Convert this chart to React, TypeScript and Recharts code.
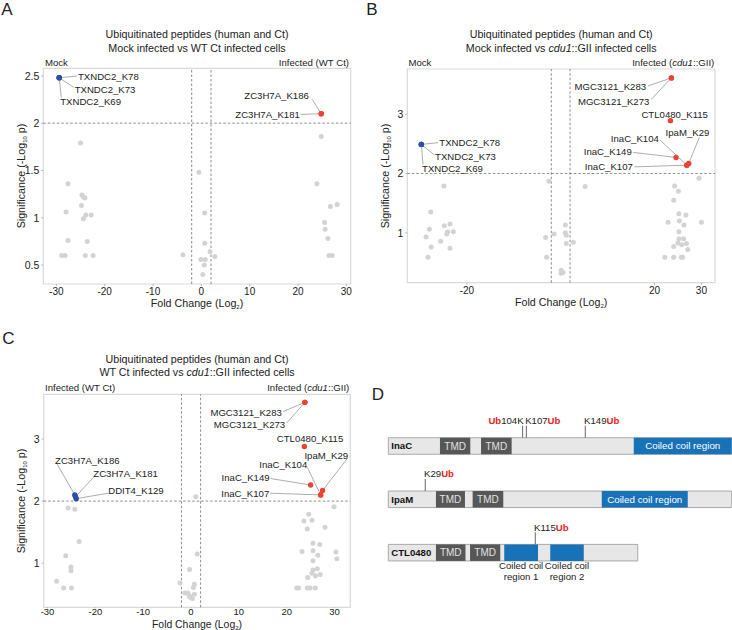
import React from 'react';
import { ScatterChart, Scatter, XAxis, YAxis, ReferenceLine, ReferenceArea } from 'recharts';

const FONT = '"Liberation Sans", Arial, Helvetica, sans-serif';
const GRAY = '#d3d3d3';
const RED = '#f0402f';
const BLUE = '#2d4fa6';
const INK = '#222';

// ---- panel A: mock vs WT Ct (fold change, -log10 p)
const grayA: [number, number][] = [
  [-25, 1.79], [-27.6, 1.36], [-24.7, 1.24], [-24.4, 1.22], [-24.1, 1.21], [-24.8, 1.13], [-28.0, 1.06],
  [-23.9, 1.03], [-22.8, 1.03], [-24.4, 0.99], [-27.6, 0.76], [-23.6, 0.75], [-28.9, 0.6], [-28.2, 0.6],
  [-24.0, 0.6], [-22.4, 0.6],
  [-0.5, 1.48], [0.7, 1.05], [0.7, 0.73], [-3.8, 0.61], [1.8, 0.64], [2.8, 0.59], [-0.1, 0.56], [0.8, 0.56],
  [0.6, 0.5], [0.3, 0.4],
  [24.8, 1.86], [23.9, 1.36], [28.1, 1.14], [26.7, 1.12], [25.5, 0.95], [25.6, 0.88], [26.2, 0.78],
  [26.4, 0.6], [27.1, 0.6],
];
const hitsA = [
  { name: 'TXNDC2_K78', fc: -29.4, sig: 2.48, up: false },
  { name: 'TXNDC2_K73', fc: -29.4, sig: 2.48, up: false },
  { name: 'TXNDC2_K69', fc: -29.4, sig: 2.48, up: false },
  { name: 'ZC3H7A_K186', fc: 24.8, sig: 2.1, up: true },
  { name: 'ZC3H7A_K181', fc: 24.8, sig: 2.1, up: true },
];

// ---- panel B: mock vs cdu1::GII
const grayB: [number, number][] = [
  [-24.9, 1.79], [-27.7, 1.35], [-24.8, 1.12], [-23.6, 1.15], [-28.0, 1.06], [-22.9, 1.02], [-24.1, 1.02],
  [-24.3, 0.98], [-28.7, 0.93], [-25.6, 0.86], [-27.6, 0.76], [-23.6, 0.74], [-28.3, 0.59],
  [-2.5, 1.87], [-3.2, 0.92], [-1.4, 0.98], [1.0, 1.13], [1.0, 1.0], [1.2, 0.96], [1.2, 0.82], [2.7, 0.84],
  [-3.0, 0.59], [0.1, 0.37], [0.5, 0.33], [0.1, 0.32], [5.2, 1.78],
  [29.5, 1.92], [24.3, 1.79], [25.1, 1.7], [24.1, 1.55], [25.2, 1.32], [26.7, 1.3], [22.9, 1.18], [25.3, 1.2],
  [26.3, 1.13], [30.0, 1.18], [25.2, 1.02], [25.2, 0.9], [26.2, 0.9], [25.0, 0.83], [26.8, 0.82], [24.1, 0.77],
  [25.8, 0.8], [27.1, 0.72], [22.2, 0.59], [24.1, 0.59], [25.7, 0.59], [26.0, 0.59],
];
const hitsB = [
  { name: 'TXNDC2_K78', fc: -29.7, sig: 2.49, up: false },
  { name: 'TXNDC2_K73', fc: -29.7, sig: 2.49, up: false },
  { name: 'TXNDC2_K69', fc: -29.7, sig: 2.49, up: false },
  { name: 'MGC3121_K283', fc: 23.6, sig: 3.61, up: true },
  { name: 'MGC3121_K273', fc: 23.6, sig: 3.61, up: true },
  { name: 'CTL0480_K115', fc: 23.4, sig: 2.89, up: true },
  { name: 'InaC_K149', fc: 24.6, sig: 2.27, up: true },
  { name: 'InaC_K107', fc: 26.9, sig: 2.14, up: true },
  { name: 'InaC_K104', fc: 26.9, sig: 2.14, up: true },
  { name: 'IpaM_K29', fc: 27.3, sig: 2.17, up: true },
];

// ---- panel C: WT Ct vs cdu1::GII
const grayC: [number, number][] = [
  [-25.7, 1.89], [-24.3, 1.87], [-23.4, 1.35], [-26.2, 1.12], [-25.1, 0.94], [-25.1, 0.88], [-28.1, 0.71],
  [-26.6, 0.6], [-25.0, 0.6],
  [1.0, 2.07], [1.3, 1.15], [-0.3, 0.9], [-2.3, 0.68], [0.7, 0.66], [0.5, 0.61], [-1.3, 0.52], [-0.7, 0.52],
  [-0.4, 0.48], [0.3, 0.43], [0.7, 0.5], [-0.2, 0.45],
  [29.9, 1.91], [24.6, 1.79], [23.6, 1.68], [25.3, 1.69], [28.0, 1.58], [24.3, 1.55], [25.5, 1.32], [26.9, 1.3],
  [23.2, 1.19], [25.5, 1.2], [26.5, 1.13], [30.3, 1.18], [30.5, 1.07], [25.5, 1.04], [25.5, 0.89], [26.4, 0.91],
  [25.3, 0.84], [27.0, 0.82], [24.4, 0.77], [26.0, 0.8], [22.1, 0.6], [22.5, 0.6], [24.3, 0.6], [24.9, 0.6],
  [26.0, 0.6],
];
const hitsC = [
  { name: 'ZC3H7A_K186', fc: -24.3, sig: 2.1, up: false },
  { name: 'ZC3H7A_K181', fc: -24.15, sig: 2.07, up: false },
  { name: 'DDIT4_K129', fc: -24.0, sig: 2.04, up: false },
  { name: 'MGC3121_K283', fc: 23.8, sig: 3.59, up: true },
  { name: 'MGC3121_K273', fc: 23.8, sig: 3.59, up: true },
  { name: 'CTL0480_K115', fc: 23.7, sig: 2.88, up: true },
  { name: 'InaC_K149', fc: 25.0, sig: 2.26, up: true },
  { name: 'InaC_K107', fc: 27.1, sig: 2.1, up: true },
  { name: 'InaC_K104', fc: 27.1, sig: 2.1, up: true },
  { name: 'IpaM_K29', fc: 27.5, sig: 2.17, up: true },
];

// label placement, pixel offsets from the point (text, leader end)
type Anno = { tx: number; ty: number; anchor: 'start' | 'end'; lx?: number; ly?: number };
const layoutA: Record<string, Anno> = {
  TXNDC2_K78: { tx: 18.7, ty: -1.7, anchor: 'start', lx: 17.7, ly: -1.7 },
  TXNDC2_K73: { tx: 15.4, ty: 11.6, anchor: 'start', lx: 14.4, ly: 9.6 },
  TXNDC2_K69: { tx: 1, ty: 24, anchor: 'start', lx: 2, ly: 19.6 },
  ZC3H7A_K186: { tx: -12.4, ty: -18.6, anchor: 'end', lx: -9, ly: -14.3 },
  ZC3H7A_K181: { tx: -21.4, ty: 0.7, anchor: 'end', lx: -20.5, ly: 0.7 },
};
const layoutB: Record<string, Anno> = {
  TXNDC2_K78: { tx: 18, ty: -1.7, anchor: 'start', lx: 16.7, ly: -1.7 },
  TXNDC2_K73: { tx: 13.7, ty: 12, anchor: 'start', lx: 13, ly: 10.6 },
  TXNDC2_K69: { tx: 0.7, ty: 24.3, anchor: 'start', lx: 1.7, ly: 20.3 },
  MGC3121_K283: { tx: -25.3, ty: 9, anchor: 'end', lx: -23.3, ly: 8 },
  MGC3121_K273: { tx: -22, ty: 23.4, anchor: 'end', lx: -20.3, ly: 21.7 },
  CTL0480_K115: { tx: -29, ty: -6.4, anchor: 'start' },
  InaC_K149: { tx: -44.3, ty: -5.6, anchor: 'end', lx: -42.7, ly: -5 },
  InaC_K107: { tx: -54, ty: 1.7, anchor: 'end', lx: -52.4, ly: 1.7 },
  InaC_K104: { tx: -28, ty: -26.6, anchor: 'end', lx: -27, ly: -25.3 },
  IpaM_K29: { tx: 20.6, ty: -30.6, anchor: 'end', lx: 10.6, ly: -26 },
};
const layoutC: Record<string, Anno> = {
  ZC3H7A_K186: { tx: -19.7, ty: -34.7, anchor: 'start', lx: -18, ly: -31.4 },
  ZC3H7A_K181: { tx: 17.8, ty: -23.3, anchor: 'start', lx: 18.5, ly: -20 },
  DDIT4_K129: { tx: 32, ty: -8, anchor: 'start', lx: 32, ly: -5.4 },
  MGC3121_K283: { tx: -23, ty: 9.7, anchor: 'end', lx: -21.7, ly: 9.2 },
  MGC3121_K273: { tx: -19.7, ty: 22, anchor: 'end', lx: -18.2, ly: 20.7 },
  CTL0480_K115: { tx: -27.6, ty: -8.4, anchor: 'start' },
  InaC_K149: { tx: -41, ty: -7.4, anchor: 'end', lx: -40, ly: -6.4 },
  InaC_K107: { tx: -51.4, ty: -1.7, anchor: 'end', lx: -50.4, ly: -1.7 },
  InaC_K104: { tx: -13.4, ty: -30, anchor: 'end', lx: -13.4, ly: -27.7 },
  IpaM_K29: { tx: 25.6, ty: -34.7, anchor: 'end', lx: 25, ly: -32.4 },
};

// ---- panel D: protein schematics (schematic residue scale)
const proteins = ['InaC', 'IpaM', 'CTL0480'];
const proteinRow = [3, 2, 1];
const proteinLength = [250, 250, 181.6];
const tmds: [string, number, number][] = [
  ['InaC', 37.6, 59.7], ['InaC', 67.5, 89.8],
  ['IpaM', 34.7, 55.8], ['IpaM', 61.4, 83.7],
  ['CTL0480', 34.7, 56.2], ['CTL0480', 59.5, 81.5],
];
const coiledCoils: [string, number, number, string][] = [
  ['InaC', 178.7, 250, 'Coiled coil region'],
  ['IpaM', 155.4, 218, 'Coiled coil region'],
  ['CTL0480', 84.4, 109, 'Coiled coil|region 1'],
  ['CTL0480', 117.9, 142.3, 'Coiled coil|region 2'],
];
const ubSites = [
  { protein: 'InaC', lys: 'K104', at: 97.8 },
  { protein: 'InaC', lys: 'K107', at: 100.5 },
  { protein: 'InaC', lys: 'K149', at: 143.4 },
  { protein: 'IpaM', lys: 'K29', at: 26.9 },
  { protein: 'CTL0480', lys: 'K115', at: 107 },
];
const reversedSites = ['K104'];

type Box = { l: number; t: number; r: number; b: number };
const Y_W = 30;
const X_H = 16;

function makeHitShape(layout: Record<string, Anno>) {
  return (p: any) => {
    const { cx, cy, payload } = p;
    const a = layout[payload.name];
    return (
      <g>
        {a && a.lx !== undefined && (
          <line x1={cx} y1={cy} x2={cx + a.lx} y2={cy + (a.ly ?? 0)} stroke="#8a8a8a" strokeWidth={0.7} />
        )}
        <circle cx={cx} cy={cy} r={2.7} fill={payload.up ? RED : BLUE} />
        {a && (
          <text x={cx + a.tx} y={cy + a.ty} textAnchor={a.anchor} dominantBaseline="central"
            fontSize={9.6} fontFamily={FONT} fill={INK}>{payload.name}</text>
        )}
      </g>
    );
  };
}

const grayShape = (p: any) => <circle cx={p.cx} cy={p.cy} r={2.5} fill={GRAY} />;

function Volcano({ left, top, width, height, box, xDomain, yDomain, xTicks, yTicks, gray, hits, layout,
  xTickSize = 2, xTickMargin = 2, xTickFont = 10 }: any) {
  const margin = {
    left: box.l - left - Y_W,
    right: left + width - box.r,
    top: box.t - top,
    bottom: top + height - box.b - X_H,
  };
  return (
    <div style={{ position: 'absolute', left, top }}>
      <ScatterChart width={width} height={height} margin={margin}>
        <XAxis type="number" dataKey="fc" domain={xDomain} allowDataOverflow ticks={xTicks} interval={0}
          height={X_H} axisLine={false} tickSize={xTickSize} tickMargin={xTickMargin} tickLine={{ stroke: '#b5b5b5' }}
          tick={{ fontSize: xTickFont, fill: INK, fontFamily: FONT }} />
        <YAxis type="number" dataKey="sig" domain={yDomain} allowDataOverflow ticks={yTicks} interval={0}
          width={Y_W} axisLine={false} tickSize={2} tickMargin={2} tickLine={{ stroke: '#b5b5b5' }}
          tick={{ fontSize: 10.5, fill: INK, fontFamily: FONT }} />
        <ReferenceArea x1={xDomain[0]} x2={xDomain[1]} y1={yDomain[0]} y2={yDomain[1]}
          fill="none" fillOpacity={0} stroke="#d9d9d9" strokeWidth={1.2} />
        <ReferenceLine x={-2} stroke="#707070" strokeWidth={0.8} strokeDasharray="2.5 2" />
        <ReferenceLine x={2} stroke="#707070" strokeWidth={0.8} strokeDasharray="2.5 2" />
        <ReferenceLine y={2} stroke="#707070" strokeWidth={0.8} strokeDasharray="2.5 2" />
        <Scatter data={gray.map(([fc, sig]: [number, number]) => ({ fc, sig }))} shape={grayShape}
          isAnimationActive={false} />
        <Scatter data={hits} shape={makeHitShape(layout)} isAnimationActive={false} />
      </ScatterChart>
    </div>
  );
}

function siteShape(p: any) {
  const { cx, cy, payload } = p;
  const top = cy - 20.3;
  const rev = reversedSites.includes(payload.lys);
  const num = payload.lys.slice(1);
  return (
    <g>
      <line x1={cx} y1={cy - 8.3} x2={cx} y2={top} stroke="#555" strokeWidth={0.9} />
      <text x={rev ? cx + 1 : cx - 1.2} y={top - 1.8} textAnchor={rev ? 'end' : 'start'} fontSize={9.6}
        fontFamily={FONT} fill={INK}>
        {rev ? (
          <>
            <tspan fill="#e8231b" fontWeight="bold">Ub</tspan>
            <tspan>{num}K</tspan>
          </>
        ) : (
          <>
            <tspan>{payload.lys}</tspan>
            <tspan fill="#e8231b" fontWeight="bold">Ub</tspan>
          </>
        )}
      </text>
    </g>
  );
}

function Schematic() {
  const half = 0.155;
  const rowOf = (name: string) => proteinRow[proteins.indexOf(name)];
  const sites = ubSites.map((s) => ({ ...s, x: s.at, y: rowOf(s.protein) }));
  return (
    <div style={{ position: 'absolute', left: 366, top: 380 }}>
      <ScatterChart width={366} height={240} margin={{ left: 22.3, right: 0.3, top: 12.65, bottom: 14 }}>
        <XAxis type="number" dataKey="x" domain={[0, 250]} allowDataOverflow hide />
        <YAxis type="number" dataKey="y" domain={[0, 4]} allowDataOverflow hide />
        {proteins.map((name, i) => (
          <ReferenceArea key={name} x1={0} x2={proteinLength[i]} y1={proteinRow[i] - half} y2={proteinRow[i] + half}
            fill="#e7e7e7" fillOpacity={1} stroke="#a9a9a9" strokeWidth={1} ifOverflow="visible"
            label={{ value: name, position: 'insideLeft', offset: 3, fontSize: 9.6, fontWeight: 'bold', fill: '#111', fontFamily: FONT }} />
        ))}
        {tmds.map(([name, a, b], i) => (
          <ReferenceArea key={'t' + i} x1={a} x2={b} y1={rowOf(name) - half} y2={rowOf(name) + half}
            fill="#575757" fillOpacity={1} stroke="none"
            label={{ value: 'TMD', position: 'center', fontSize: 10, fill: '#e2e2e2', fontFamily: FONT }} />
        ))}
        {coiledCoils.map(([name, a, b, text], i) => {
          const parts = text.split('|');
          const label =
            parts.length === 1
              ? { value: text, position: 'center' as const, fontSize: 9.8, fill: '#fff', fontFamily: FONT }
              : {
                  content: (lp: any) => {
                    const vb = lp.viewBox;
                    const x = vb.x + vb.width / 2;
                    const y = vb.y + vb.height;
                    return (
                      <text textAnchor="middle" fontSize={9.6} fontFamily={FONT} fill={INK}>
                        <tspan x={x} y={y + 8.3}>{parts[0]}</tspan>
                        <tspan x={x} y={y + 19.3}>{parts[1]}</tspan>
                      </text>
                    );
                  },
                };
          return (
            <ReferenceArea key={'c' + i} x1={a} x2={b} y1={rowOf(name) - half} y2={rowOf(name) + half}
              fill="#1872b8" fillOpacity={1} stroke="none" ifOverflow="visible" label={label as any} />
          );
        })}
        <Scatter data={sites} shape={siteShape} isAnimationActive={false} />
      </ScatterChart>
    </div>
  );
}

function T({ x, y, a = 'middle', size = 9.6, rotate = false, bold = false, children }: any) {
  const tx = a === 'middle' ? '-50%' : a === 'end' ? '-100%' : '0';
  return (
    <div
      style={{
        position: 'absolute', left: x, top: y, whiteSpace: 'nowrap', lineHeight: 1, fontSize: size,
        fontFamily: FONT, color: INK, fontWeight: bold ? 'bold' : 'normal',
        transform: `translate(${tx},-50%)${rotate ? ' rotate(-90deg)' : ''}`,
      }}
    >
      {children}
    </div>
  );
}

const sub = (s: string) => <sub style={{ fontSize: 6, verticalAlign: '-2px', lineHeight: 0 }}>{s}</sub>;
const yTitle = <>Significance (-Log{sub('10')} p)</>;
const xTitle = <>Fold Change (Log{sub('2')})</>;

export default function App() {
  const boxA: Box = { l: 43.3, t: 68.3, r: 350.7, b: 284 };
  const boxB: Box = { l: 407.3, t: 69, r: 715, b: 282.7 };
  const boxC: Box = { l: 43.7, t: 394.3, r: 350.3, b: 607.3 };
  return (
    <div style={{ position: 'absolute', left: 0, top: 0, width: 732, height: 630, background: '#fff', overflow: 'hidden' }}>
      <Volcano left={0} top={0} width={366} height={310} box={boxA} xDomain={[-32.7, 30.9]} yDomain={[0.3, 2.58]}
        xTicks={[-30, -20, -10, 0, 10, 20, 30]} yTicks={[0.5, 1, 1.5, 2, 2.5]} gray={grayA} hits={hitsA} layout={layoutA} />
      <Volcano left={366} top={0} width={366} height={310} box={boxB} xDomain={[-32.7, 32.9]} yDomain={[0.16, 3.76]}
        xTicks={[-20, 20, 30]} yTicks={[1, 2, 3]} gray={grayB} hits={hitsB} layout={layoutB} />
      <Volcano left={0} top={320} width={366} height={310} box={boxC} xDomain={[-30.8, 33.3]} yDomain={[0.29, 3.72]}
        xTicks={[-30, -20, -10, 0, 10, 20, 30]} yTicks={[1, 2, 3]} gray={grayC} hits={hitsC} layout={layoutC}
        xTickSize={1} xTickMargin={0} xTickFont={9.5} />
      <Schematic />

      <T x={7} y={9} size={17}>A</T>
      <T x={372} y={9} size={17}>B</T>
      <T x={8.3} y={338.3} size={17}>C</T>
      <T x={378} y={393.5} size={17}>D</T>

      <T x={197} y={34} size={10.7}>Ubiquitinated peptides (human and Ct)</T>
      <T x={197} y={48.3} size={10.7}>Mock infected vs WT Ct infected cells</T>
      <T x={561.2} y={34} size={10.7}>Ubiquitinated peptides (human and Ct)</T>
      <T x={561.2} y={48.3} size={10.7}>Mock infected vs <i>cdu1</i>::GII infected cells</T>
      <T x={197} y={359.3} size={10.7}>Ubiquitinated peptides (human and Ct)</T>
      <T x={197} y={371.8} size={10.7}>WT Ct infected vs <i>cdu1</i>::GII infected cells</T>

      <T x={45} y={63} a="start">Mock</T>
      <T x={349} y={63} a="end">Infected (WT Ct)</T>
      <T x={408.5} y={63} a="start">Mock</T>
      <T x={714.3} y={63} a="end">Infected (<i>cdu1</i>::GII)</T>
      <T x={45} y={387.7} a="start">Infected (WT Ct)</T>
      <T x={349.3} y={387.7} a="end">Infected (<i>cdu1</i>::GII)</T>

      <T x={197} y={303} size={10.7}>{xTitle}</T>
      <T x={561.2} y={301.8} size={10.7}>{xTitle}</T>
      <T x={197} y={624.7} size={10.4}>{xTitle}</T>
      <T x={20.7} y={176} size={10.7} rotate>{yTitle}</T>
      <T x={385} y={176} size={10.7} rotate>{yTitle}</T>
      <T x={20.7} y={500.8} size={10.7} rotate>{yTitle}</T>
    </div>
  );
}
